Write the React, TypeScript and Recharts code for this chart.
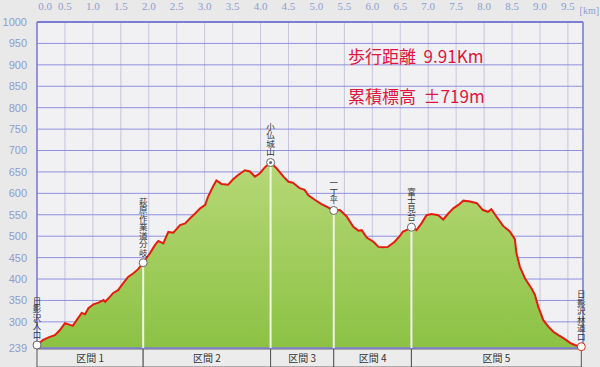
import {
  AreaChart,
  Area,
  XAxis,
  YAxis,
  CartesianGrid,
  ReferenceLine,
  ReferenceArea,
  Scatter,
} from 'recharts';

// elevation profile
const distKm = [
  0.0, 0.11, 0.23, 0.32, 0.41, 0.5, 0.59, 0.64, 0.71, 0.8, 0.86, 0.92, 1.01, 1.1, 1.19, 1.22, 1.28, 1.36, 1.45,
  1.54, 1.63, 1.72, 1.81, 1.9, 2.02, 2.11, 2.17, 2.26, 2.35, 2.44, 2.56, 2.65, 2.74, 2.83, 2.92, 3.01, 3.06,
  3.15, 3.21, 3.3, 3.42, 3.51, 3.6, 3.72, 3.81, 3.9, 3.99, 4.08, 4.18, 4.29, 4.41, 4.5, 4.58, 4.7, 4.79, 4.85,
  4.97, 5.09, 5.18, 5.31, 5.42, 5.54, 5.66, 5.75, 5.81, 5.9, 6.02, 6.11, 6.19, 6.28, 6.4, 6.49, 6.55, 6.64,
  6.7, 6.79, 6.88, 6.97, 7.06, 7.18, 7.27, 7.36, 7.45, 7.54, 7.63, 7.75, 7.87, 7.98, 8.07, 8.13, 8.22, 8.34,
  8.46, 8.55, 8.58, 8.64, 8.73, 8.85, 8.91, 8.97, 9.06, 9.15, 9.24, 9.33, 9.42, 9.54, 9.62, 9.74,
];
const elevM = [
  246, 258, 265, 269, 281, 297, 293, 291, 304, 321, 318, 332, 341, 345, 351, 347, 355, 367, 374,
  390, 405, 413, 423, 438, 460, 479, 489, 483, 510, 508, 526, 530, 542, 553, 565, 573, 592,
  616, 630, 622, 620, 633, 643, 654, 651, 639, 647, 661, 672, 658, 639, 627, 625, 612, 608, 596,
  585, 575, 569, 560, 561, 546, 522, 513, 514, 497, 487, 475, 474, 475, 487, 500, 511, 516,
  521, 514, 530, 549, 552, 549, 539, 553, 565, 573, 583, 581, 577, 561, 557, 563, 546, 524,
  511, 493, 460, 429, 402, 378, 363, 335, 304, 289, 277, 269, 262, 251, 246, 242,
];

const wpNames = ['日影沢入口', '萩原作業道分岐', '小仏城山', '一丁平', '富士見台', '日影沢林道口'];
const wpDist = [0, 1.9, 4.18, 5.31, 6.7, 9.74];
const wpElev = [246, 438, 672, 560, 521, 242];

const sectionNames = ['区間 1', '区間 2', '区間 3', '区間 4', '区間 5'];

const xTicks = [0, 0.5, 1, 1.5, 2, 2.5, 3, 3.5, 4, 4.5, 5, 5.5, 6, 6.5, 7, 7.5, 8, 8.5, 9, 9.5];
const yTicks = [239, 300, 350, 400, 450, 500, 550, 600, 650, 700, 750, 800, 850, 900, 950, 1000];

const profile = distKm.map((d, i) => ({ d, e: elevM[i] }));
const waypoints = wpNames.map((name, i) => ({ d: wpDist[i], e: wpElev[i], name }));

const X_MAX = 9.77;
const Y_MIN = 239;
// section strip below the plot, in metres (one px is about 2.33 m)
const STRIP_TOP = 236.8;
const STRIP_BOTTOM = 194.5;

const TopTick = (props: any) => {
  const { x, y, payload } = props;
  const dx = payload.value === 0 ? 8 : 0;
  return (
    <text x={x + dx} y={y} textAnchor="middle" fill="#8e9ccf" fontSize={11} fontFamily="'Liberation Serif', serif">
      {payload.value.toFixed(1)}
    </text>
  );
};

const WaypointMark = (props: any) => {
  const { cx, cy, payload } = props;
  if (cx == null || cy == null) return null;
  const summit = payload.name === '小仏城山';
  const last = payload.d > 9;
  return (
    <g>
      <text
        x={cx}
        y={cy - 6}
        textAnchor="end"
        fontSize={8.5}
        fill="#333"
        fontFamily="'Noto Sans CJK JP', sans-serif"
        style={{ writingMode: 'vertical-rl' }}
      >
        {payload.name}
      </text>
      <circle cx={cx} cy={cy} r={4} fill="#fff" stroke={last ? '#d03020' : '#666'} strokeWidth={1} />
      {summit && <circle cx={cx} cy={cy} r={1.5} fill="#666" />}
    </g>
  );
};

export default function App() {
  return (
    <div style={{ position: 'absolute', left: 0, top: 0, width: 600, height: 367, background: '#e9e9e9' }}>
      <AreaChart width={600} height={367} data={profile} margin={{ top: 2, right: 17, bottom: 19, left: 0 }}>
        <defs>
          <linearGradient id="fillGreen" x1="0" y1="0" x2="0" y2="1">
            <stop offset="0%" stopColor="#b6d876" />
            <stop offset="100%" stopColor="#8cc244" />
          </linearGradient>
        </defs>
        <CartesianGrid fill="#f1f1f3" horizontal={false} stroke="#c6c6da" />
        <CartesianGrid vertical={false} stroke="#9090e0" />
        <XAxis
          dataKey="d"
          type="number"
          orientation="top"
          domain={[0, X_MAX]}
          ticks={xTicks}
          height={20}
          tickLine={false}
          axisLine={false}
          tick={<TopTick />}
          tickMargin={6}
          interval={0}
        />
        <YAxis
          dataKey="e"
          type="number"
          domain={[Y_MIN, 1000]}
          ticks={yTicks}
          width={37}
          tickLine={false}
          axisLine={false}
          tickMargin={4}
          interval={0}
          tick={{ fill: '#8e9ccf', fontSize: 11, fontFamily: "'Liberation Sans', sans-serif" }}
        />
        <ReferenceLine x={0} stroke="#7c7cd8" strokeWidth={1.5} />
        <ReferenceLine x={X_MAX} stroke="#7c7cd8" strokeWidth={1.5} />
        <ReferenceLine y={1000} stroke="#7c7cd8" strokeWidth={2} />
        <ReferenceLine y={Y_MIN} stroke="#7c7cd8" strokeWidth={1.5} />
        <Area
          type="linear"
          dataKey="e"
          stroke="#e41e0e"
          strokeWidth={2}
          fill="url(#fillGreen)"
          fillOpacity={1}
          dot={false}
          activeDot={false}
          isAnimationActive={false}
        />
        {waypoints.slice(1, 5).map((w) => (
          <ReferenceLine
            key={w.name}
            segment={[
              { x: w.d, y: Y_MIN },
              { x: w.d, y: w.e },
            ]}
            stroke="#f2f2f2"
            strokeWidth={2}
          />
        ))}
        {sectionNames.map((s, i) => (
          <ReferenceArea
            key={s}
            x1={wpDist[i]}
            x2={wpDist[i + 1]}
            y1={STRIP_BOTTOM}
            y2={STRIP_TOP}
            ifOverflow="visible"
            fill="#ececec"
            fillOpacity={1}
            stroke="#555"
            strokeWidth={1}
            label={{ value: s, fill: '#333', fontSize: 10, fontFamily: "'Noto Sans CJK JP', sans-serif" }}
          />
        ))}
        <Scatter data={waypoints} dataKey="e" shape={<WaypointMark />} isAnimationActive={false} />
      </AreaChart>
      <div
        style={{
          position: 'absolute',
          right: 1,
          top: 5,
          color: '#8e9ccf',
          fontSize: 10,
          fontFamily: "'Liberation Serif', serif",
          lineHeight: '12px',
        }}
      >
        [km]
      </div>
      <div
        style={{
          position: 'absolute',
          left: 348,
          top: 46,
          color: '#e0163e',
          fontSize: 17,
          fontFamily: "'Noto Sans CJK JP', sans-serif",
          whiteSpace: 'pre',
          lineHeight: '20px',
        }}
      >
        {'歩行距離  9.91Km'}
      </div>
      <div
        style={{
          position: 'absolute',
          left: 348,
          top: 86,
          color: '#e0163e',
          fontSize: 17,
          fontFamily: "'Noto Sans CJK JP', sans-serif",
          whiteSpace: 'pre',
          lineHeight: '20px',
        }}
      >
        {'累積標高  ±719m'}
      </div>
    </div>
  );
}
